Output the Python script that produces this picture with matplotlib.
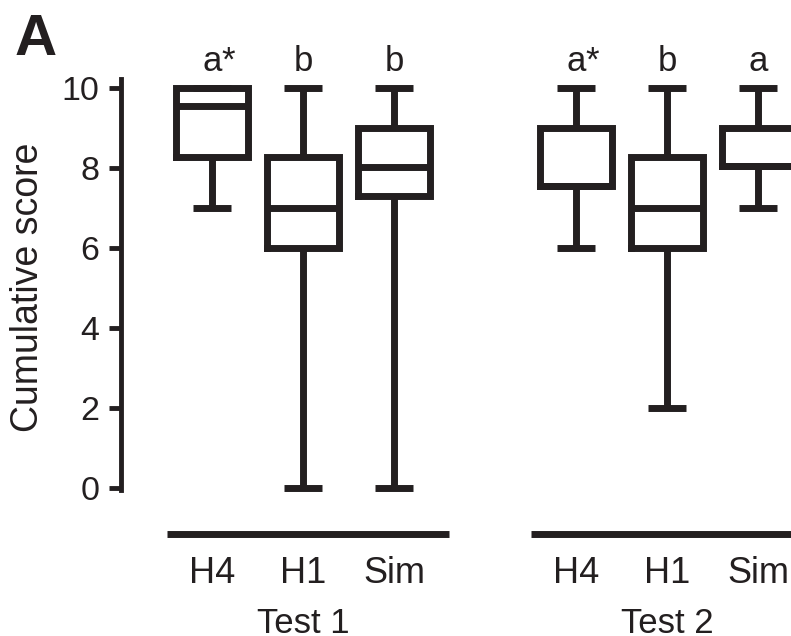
import matplotlib
matplotlib.use("Agg")
import matplotlib.pyplot as plt

plt.rcParams["font.family"] = ["Liberation Sans", "DejaVu Sans"]

# data
tests = ["Test 1", "Test 2"]
categories = ["H4", "H1", "Sim"]
positions = [1, 2, 3, 5, 6, 7]
whisker_low = [7, 0, 0, 6, 2, 7]
q1 = [8.27, 6, 7.3, 7.55, 6, 8.05]
medians = [9.54, 7, 8.03, 7.55, 7, 8.05]
q3 = [10, 8.27, 9, 9, 8.27, 9]
whisker_high = [10, 10, 10, 10, 10, 10]
letters = ["a*", "b", "b", "a*", "b", "a"]

ink = "#231f20"
lw = 5

fig = plt.figure(figsize=(7.91, 6.36), dpi=100)
ax = fig.add_axes([121 / 791, (636 - 488.3) / 636, 670 / 791, 400.6 / 636])

stats = []
for i in range(len(positions)):
    stats.append({
        "whislo": whisker_low[i], "q1": q1[i], "med": medians[i],
        "q3": q3[i], "whishi": whisker_high[i], "fliers": [],
    })

parts = ax.bxp(
    stats, positions=positions, widths=0.8, capwidths=0.42,
    showfliers=False, patch_artist=False,
    boxprops=dict(color=ink, linewidth=lw, solid_joinstyle="miter"),
    medianprops=dict(color=ink, linewidth=lw, solid_capstyle="butt"),
    whiskerprops=dict(color=ink, linewidth=lw, solid_capstyle="butt"),
    capprops=dict(color=ink, linewidth=lw, solid_capstyle="butt"),
)
for key in parts:
    for artist in parts[key]:
        artist.set_clip_on(False)

# significance letters
for pos, lab in zip(positions, letters):
    ax.text(pos, 10.42, lab[0], ha="center", va="baseline", fontsize=25, color=ink)
    if lab.endswith("*"):
        ax.annotate("*", xy=(pos, 10.42), xytext=(6.5, 0), textcoords="offset points",
                    ha="left", va="baseline", fontsize=25, color=ink,
                    annotation_clip=False)

# group labels and lines
for g, test in enumerate(tests):
    center = positions[g * 3 + 1]
    ax.plot([center - 1.5, center + 1.6], [-1.15, -1.15], color=ink, linewidth=lw,
            solid_capstyle="butt", clip_on=False)
    for k, cat in enumerate(categories):
        ax.text(positions[g * 3 + k], -2.37, cat, ha="center", va="baseline",
                fontsize=26, color=ink)
    ax.text(center, -3.62, test, ha="center", va="baseline", fontsize=25, color=ink)

ax.set_xlim(0, 670 / 91)
ax.set_ylim(0, 10)
ax.set_yticks([0, 2, 4, 6, 8, 10])
ax.set_xticks([])
ax.tick_params(axis="y", length=8.6, width=3.5, pad=7, labelsize=24.5, colors=ink)
for side in ["top", "right", "bottom"]:
    ax.spines[side].set_visible(False)
ax.spines["left"].set_linewidth(3.5)
ax.spines["left"].set_color(ink)
ax.spines["left"].set_bounds(-0.05, 10.22)
ax.patch.set_alpha(0)

fig.text(28 / 791, 1 - 287 / 636, "Cumulative score", rotation=90, ha="center",
         va="center", fontsize=27, color=ink)
fig.text(15 / 791, 1 - 55 / 636, "A", fontsize=42, fontweight="bold", color=ink,
         ha="left", va="baseline")

fig.savefig("out.png", dpi=100, facecolor="white")
